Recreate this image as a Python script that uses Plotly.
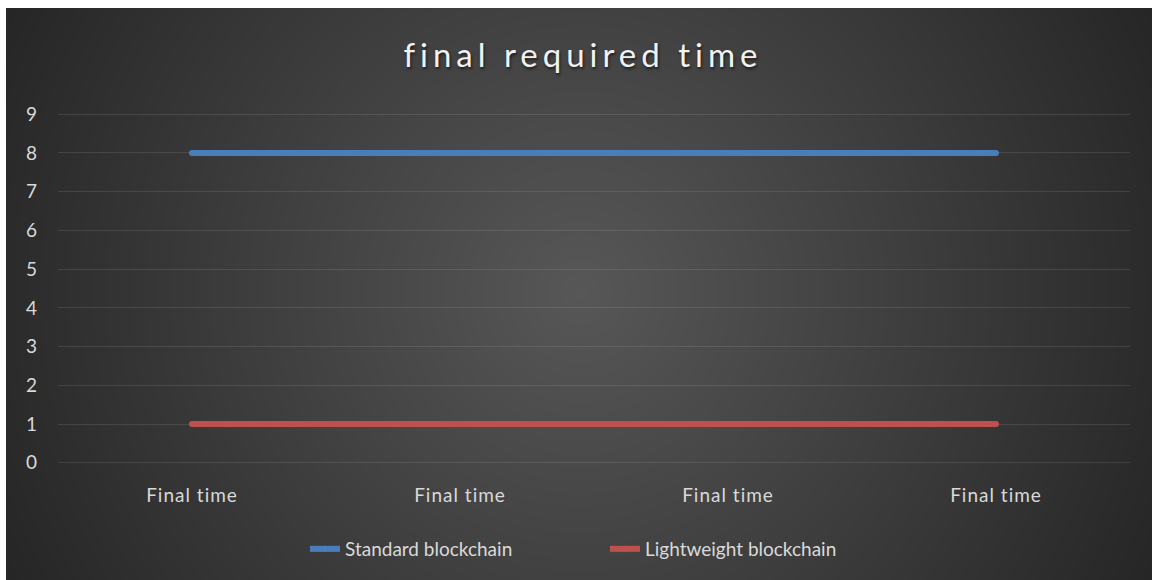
import base64
import struct
import zlib

import numpy as np
import plotly.graph_objects as go

# Chart data
categories = ["Final time", "Final time", "Final time", "Final time"]
standard_values = [8, 8, 8, 8]
lightweight_values = [1, 1, 1, 1]
y_ticks = [0, 1, 2, 3, 4, 5, 6, 7, 8, 9]

W, H = 1152, 580
L, R, T, B = 58, 22, 113, 116
PW, PH = W - L - R, H - T - B


def px_x(px):
    return (px - L) / PW


def px_y(py):
    return (H - B - py) / PH


def radial_panel_png(w, h, cx, cy, inner, outer, radius):
    """Grey PNG that fades from `inner` at (cx, cy) to `outer` at `radius`."""
    yy, xx = np.mgrid[0:h, 0:w]
    d = np.sqrt((xx - cx) ** 2 + (yy - cy) ** 2) / radius
    val = inner + (outer - inner) * np.clip(d, 0, 1)
    img = np.clip(np.round(val), 0, 255).astype(np.uint8)
    raw = b"".join(b"\x00" + img[r].tobytes() for r in range(h))

    def chunk(tag, data):
        c = struct.pack(">I", len(data)) + tag + data
        return c + struct.pack(">I", zlib.crc32(tag + data) & 0xFFFFFFFF)

    png = b"\x89PNG\r\n\x1a\n"
    png += chunk(b"IHDR", struct.pack(">IIBBBBB", w, h, 8, 0, 0, 0, 0))
    png += chunk(b"IDAT", zlib.compress(raw, 9))
    png += chunk(b"IEND", b"")
    return "data:image/png;base64," + base64.b64encode(png).decode()


panel_x0, panel_y0 = 6, 8
panel_w, panel_h = W - panel_x0, H - panel_y0
panel_src = radial_panel_png(panel_w, panel_h, 580 - panel_x0, 292 - panel_y0,
                             inner=87, outer=37, radius=650)

x_idx = list(range(len(categories)))

fig = go.Figure()
fig.add_trace(go.Scatter(
    x=x_idx, y=standard_values, name="Standard blockchain",
    mode="lines+markers",
    line=dict(color="#4a7ebb", width=6),
    marker=dict(color="#4a7ebb", size=6, line=dict(width=0)),
))
fig.add_trace(go.Scatter(
    x=x_idx, y=lightweight_values, name="Lightweight blockchain",
    mode="lines+markers",
    line=dict(color="#c0504d", width=6),
    marker=dict(color="#c0504d", size=6, line=dict(width=0)),
))

font_family = "Lato, 'Open Sans', sans-serif"
text_color = "#d9d9d9"

fig.update_layout(
    width=W, height=H,
    margin=dict(l=L, r=R, t=T, b=B),
    paper_bgcolor="white",
    plot_bgcolor="rgba(0,0,0,0)",
    images=[dict(
        source=panel_src, xref="paper", yref="paper",
        x=px_x(panel_x0), y=px_y(panel_y0),
        sizex=panel_w / PW, sizey=panel_h / PH,
        xanchor="left", yanchor="top", sizing="stretch", layer="below",
    )],
    title=dict(
        text='<span style="letter-spacing:5px">final required time</span>',
        x=px_x(583), xref="paper", xanchor="center",
        y=1 - 55 / H, yref="container", yanchor="middle",
        font=dict(family=font_family, size=33, color="#f2f2f2",
                  shadow="1px 2px 3px rgba(0,0,0,0.6)"),
    ),
    xaxis=dict(
        range=[-0.5, len(categories) - 0.5],
        tickmode="array", tickvals=x_idx,
        ticktext=['<span style="letter-spacing:1px">%s</span>' % c for c in categories],
        showgrid=False, zeroline=False, showline=False,
        ticks="", ticklabelstandoff=18,
        tickfont=dict(family=font_family, size=19, color=text_color),
        fixedrange=True,
    ),
    yaxis=dict(
        range=[-0.03, 9.03], tickmode="array", tickvals=y_ticks,
        showgrid=True, gridcolor="rgba(255,255,255,0.1)", gridwidth=1.2,
        zeroline=False, showline=False, ticks="", ticklabelstandoff=20,
        tickfont=dict(family=font_family, size=19, color=text_color),
        fixedrange=True,
    ),
    legend=dict(
        orientation="h", x=px_x(305), xanchor="left", xref="paper",
        y=px_y(549), yanchor="middle",
        bgcolor="rgba(0,0,0,0)",
        font=dict(family=font_family, size=19, color=text_color),
        entrywidth=255, entrywidthmode="pixels",
        tracegroupgap=0,
    ),
    showlegend=True,
)
fig.write_html("out.html", config={"displayModeBar": False})
